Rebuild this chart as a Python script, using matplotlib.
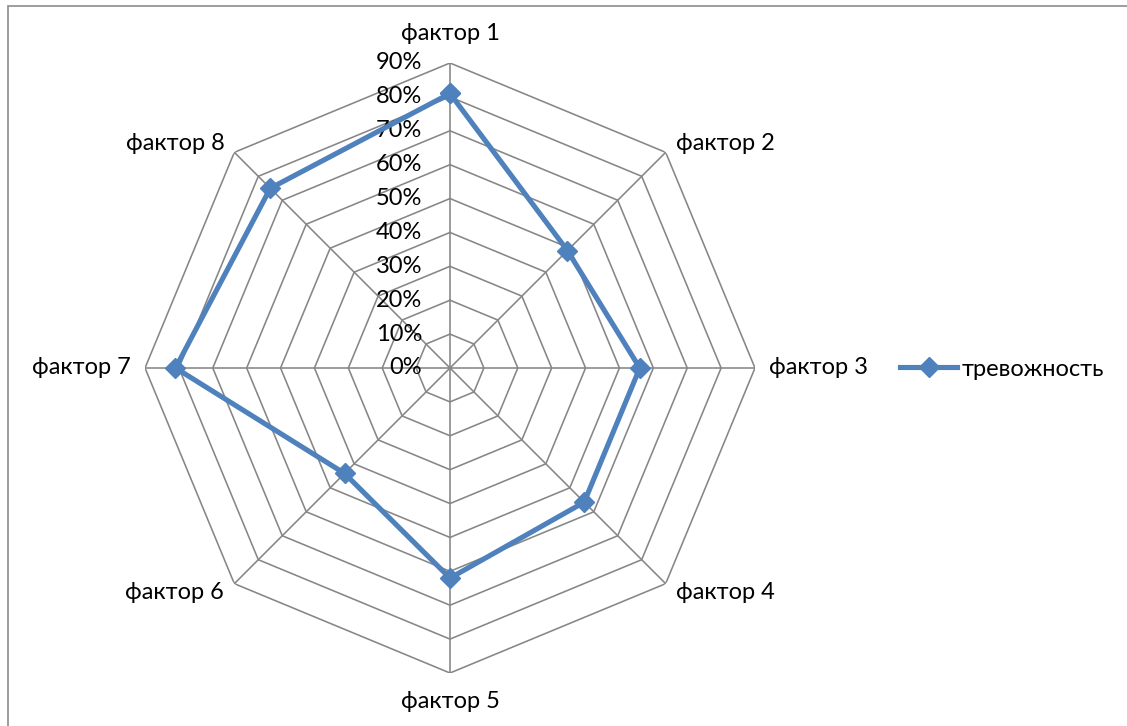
import numpy as np
import matplotlib
matplotlib.use('Agg')
import matplotlib.pyplot as plt
from matplotlib.patches import Rectangle

plt.rcParams['font.family'] = ['Lato', 'Open Sans', 'DejaVu Sans']

# data
factors = ['фактор 1', 'фактор 2', 'фактор 3', 'фактор 4',
           'фактор 5', 'фактор 6', 'фактор 7', 'фактор 8']
anxiety = [0.81, 0.49, 0.56, 0.56, 0.62, 0.44, 0.81, 0.75]
levels = [0.0, 0.1, 0.2, 0.3, 0.4, 0.5, 0.6, 0.7, 0.8, 0.9]
level_labels = ['0%', '10%', '20%', '30%', '40%', '50%', '60%', '70%', '80%', '90%']
series_name = 'тревожность'

blue = '#4F81BD'
grid = '#868686'
W, H = 1127, 726
fs = 17

fig = plt.figure(figsize=(W / 100, H / 100), dpi=100)

# chart area border (only left and top edges visible)
fig.patches.append(Rectangle((8 / W, -0.5), 2.0, 1.5 - 6 / H, transform=fig.transFigure,
                             fill=False, edgecolor='#8c8c8c', linewidth=1.2))

cx, cy, R = 450, 368, 305
ax = fig.add_axes([(cx - R) / W, (H - cy - R) / H, 2 * R / W, 2 * R / H], projection='polar')
ax.set_theta_zero_location('N')
ax.set_theta_direction(-1)
ax.set_ylim(0, 0.9)
ax.grid(False)
ax.spines['polar'].set_visible(False)
ax.set_xticks([])
ax.set_yticks([])
ax.patch.set_alpha(0)

n = len(factors)
angles = np.arange(n) * 2 * np.pi / n
closed = np.append(angles, angles[0])

# polygon grid rings and spokes
for lv in levels[1:]:
    ax.plot(closed, [lv] * (n + 1), color=grid, lw=1.15, zorder=1)
for a in angles:
    ax.plot([a, a], [0, levels[-1]], color=grid, lw=1.15, zorder=1)

# radial tick labels along the top spoke
for lv, lab in zip(levels, level_labels):
    ax.annotate(lab, xy=(0, lv), xytext=(-28, 0), textcoords='offset pixels',
                ha='right', va='center', fontsize=fs, color='black')

# category labels
for a, lab in zip(angles, factors):
    dx, dy = np.sin(a), np.cos(a)
    if abs(dx) < 0.1:
        ha, off = 'center', (0, 29 * np.sign(dy))
    elif abs(dy) < 0.1:
        ha, off = ('left' if dx > 0 else 'right'), (14 * np.sign(dx), 0)
    else:
        ha, off = ('left' if dx > 0 else 'right'), (10 * np.sign(dx), 9 * np.sign(dy))
    ax.annotate(lab, xy=(a, levels[-1]), xytext=off, textcoords='offset pixels',
                ha=ha, va='center', fontsize=fs, color='black', annotation_clip=False)

vals = np.append(anxiety, anxiety[0])
ax.plot(closed, vals, color=blue, lw=3.7, marker='D', markersize=10,
        markerfacecolor=blue, markeredgecolor=blue, label=series_name, zorder=3)

fig.legend(loc='center left', bbox_to_anchor=(891 / W, (H - 369) / H), frameon=False,
           fontsize=fs, handlelength=2.4, handletextpad=0.17, borderaxespad=0)

fig.savefig('out.png', dpi=100)
